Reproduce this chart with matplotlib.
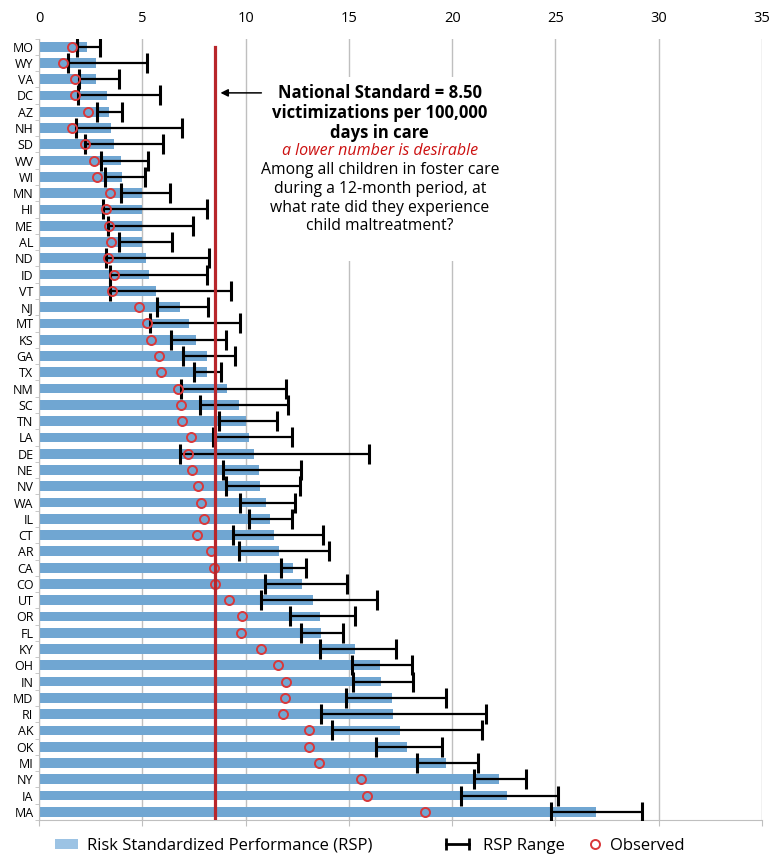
import numpy as np
import matplotlib
matplotlib.use('Agg')
import matplotlib.pyplot as plt
from matplotlib.patches import Patch, Rectangle
from matplotlib.lines import Line2D
from matplotlib.legend_handler import HandlerLine2D

plt.rcParams['font.family'] = ['Open Sans', 'DejaVu Sans']

# data
states = ['MO', 'WY', 'VA', 'DC', 'AZ', 'NH', 'SD', 'WV', 'WI', 'MN', 'HI', 'ME',
          'AL', 'ND', 'ID', 'VT', 'NJ', 'MT', 'KS', 'GA', 'TX', 'NM', 'SC', 'TN',
          'LA', 'DE', 'NE', 'NV', 'WA', 'IL', 'CT', 'AR', 'CA', 'CO', 'UT', 'OR',
          'FL', 'KY', 'OH', 'IN', 'MD', 'RI', 'AK', 'OK', 'MI', 'NY', 'IA', 'MA']
rsp = [2.33, 2.75, 2.75, 3.28, 3.38, 3.49, 3.62, 3.96, 4.04, 5.01, 5.0, 5.0,
       5.0, 5.17, 5.31, 5.64, 6.82, 7.25, 7.58, 8.14, 8.14, 9.08, 9.66, 10.02,
       10.16, 10.4, 10.66, 10.71, 11.0, 11.18, 11.37, 11.63, 12.30, 12.75, 13.27, 13.61,
       13.66, 15.30, 16.51, 16.56, 17.11, 17.16, 17.47, 17.81, 19.69, 22.26, 22.64, 26.95]
rsp_low = [1.84, 1.41, 1.94, 1.87, 2.83, 1.81, 2.23, 2.99, 3.20, 3.96, 3.09, 3.34,
           3.88, 3.23, 3.42, 3.42, 5.69, 5.36, 6.37, 6.95, 7.51, 6.87, 7.77, 8.72,
           8.43, 6.82, 8.92, 9.05, 9.74, 10.18, 9.37, 9.68, 11.70, 10.95, 10.75, 12.15,
           12.66, 13.58, 15.16, 15.21, 14.85, 13.64, 14.19, 16.29, 18.29, 21.07, 20.42, 24.8]
rsp_high = [2.94, 5.25, 3.86, 5.88, 4.04, 6.90, 6.01, 5.28, 5.12, 6.33, 8.14, 7.46,
            6.46, 8.24, 8.14, 9.31, 8.17, 9.73, 9.06, 9.48, 8.79, 11.95, 12.07, 11.53,
            12.26, 15.98, 12.68, 12.63, 12.37, 12.25, 13.76, 14.02, 12.92, 14.92, 16.34, 15.29,
            14.72, 17.27, 18.06, 18.11, 19.68, 21.62, 21.45, 19.49, 21.24, 23.57, 25.12, 29.2]
observed = [1.58, 1.16, 1.76, 1.73, 2.37, 1.60, 2.25, 2.68, 2.79, 3.44, 3.26, 3.39,
            3.47, 3.34, 3.62, 3.55, 4.83, 5.22, 5.43, 5.82, 5.90, 6.74, 6.85, 6.93,
            7.37, 7.22, 7.42, 7.69, 7.82, 8.00, 7.63, 8.32, 8.46, 8.51, 9.22, 9.85,
            9.77, 10.74, 11.55, 11.96, 11.93, 11.80, 13.05, 13.06, 13.56, 15.59, 15.88, 18.7]
national_standard = 8.5

bar_color = '#70A6D2'
red = '#D9383A'
line_red = '#B8262B'

y = np.arange(len(states))
rsp = np.array(rsp)
lo = np.array(rsp_low)
hi = np.array(rsp_high)

fig = plt.figure(figsize=(7.72, 8.56), dpi=100)
ax = fig.add_axes([39 / 772, 1 - 820 / 856, (762 - 39) / 772, (820 - 38.5) / 856])

ax.barh(y, rsp, height=0.6, color=bar_color, zorder=2)
# range drawn from its low end to its high end
ax.errorbar(lo, y, xerr=[np.zeros(len(y)), hi - lo],
            fmt='none', ecolor='black', elinewidth=1.6, capsize=7.5, capthick=2.2, zorder=3)
ax.plot(observed, y, 'o', mfc='none', mec=red, ms=6.5, mew=1.4, zorder=4)
ax.plot([national_standard, national_standard], [0, len(y) - 0.5], color=line_red, lw=2.3, zorder=5)

# annotation box
ax.add_patch(Rectangle((10.9, 1.86), 13.1, 11.3, facecolor='white', edgecolor='none', zorder=1))
ax.annotate('', xy=(8.65, 2.84), xytext=(10.9, 2.84),
            arrowprops=dict(arrowstyle='-|>', color='black', lw=1.1, mutation_scale=11), zorder=6)
tx = 16.5
ax.text(tx, 2.84, 'National Standard = 8.50', ha='center', va='center', fontsize=12, fontweight='bold', zorder=6)
ax.text(tx, 4.07, 'victimizations per 100,000', ha='center', va='center', fontsize=12, fontweight='bold', zorder=6)
ax.text(tx, 5.30, 'days in care', ha='center', va='center', fontsize=12, fontweight='bold', zorder=6)
ax.text(tx, 6.40, 'a lower number is desirable', ha='center', va='center', fontsize=11.5, style='italic',
        color='#CC1111', zorder=6)
ax.text(tx, 7.57, 'Among all children in foster care', ha='center', va='center', fontsize=11.3, zorder=6)
ax.text(tx, 8.74, 'during a 12-month period, at', ha='center', va='center', fontsize=11.3, zorder=6)
ax.text(tx, 9.90, 'what rate did they experience', ha='center', va='center', fontsize=11.3, zorder=6)
ax.text(tx, 11.0, 'child maltreatment?', ha='center', va='center', fontsize=11.3, zorder=6)

ax.set_xlim(0, 35)
ax.set_ylim(len(y) - 0.5, -0.5)
ax.set_xticks(np.arange(0, 36, 5))
ax.xaxis.grid(True, color='#BFBFBF', lw=1, zorder=0)
ax.set_axisbelow(True)
ax.tick_params(axis='x', bottom=True, top=False, labelbottom=False, labeltop=True,
               length=4, color='#BFBFBF', labelsize=10.5, pad=5)
ax.set_yticks(y)
ax.set_yticklabels(states)
ax.set_yticks(np.arange(-0.5, len(y), 1), minor=True)
ax.tick_params(axis='y', which='major', length=0, labelsize=9, pad=4)
ax.tick_params(axis='y', which='minor', length=3, color='#BFBFBF')
for s in ['top', 'right']:
    ax.spines[s].set_visible(False)
ax.spines['left'].set_color('#BFBFBF')
ax.spines['bottom'].set_color('#BFBFBF')

# legend, three pieces placed like the reference
leg_y = 1 - 846 / 856
h_rsp = Patch(facecolor='#9CC3E4', edgecolor='none')
h_rng = Line2D([], [], color='black', lw=2, marker='|', ms=9, mew=2)
h_obs = Line2D([], [], ls='none', marker='o', mfc='none', mec=red, ms=6.5, mew=1.4)
kw = dict(loc='center left', frameon=False, fontsize=12, borderpad=0, borderaxespad=0, handletextpad=0.5)
fig.legend([h_rsp], ['Risk Standardized Performance (RSP)'], bbox_to_anchor=(55 / 772, leg_y),
           handlelength=1.4, handleheight=0.6, **kw)
fig.legend([h_rng], ['RSP Range'], bbox_to_anchor=(441 / 772, leg_y), handlelength=2.0,
           handler_map={h_rng: HandlerLine2D(numpoints=2)}, **kw)
fig.legend([h_obs], ['Observed'], bbox_to_anchor=(587 / 772, leg_y), handlelength=0.9, **kw)

fig.savefig('out.png', dpi=100)
